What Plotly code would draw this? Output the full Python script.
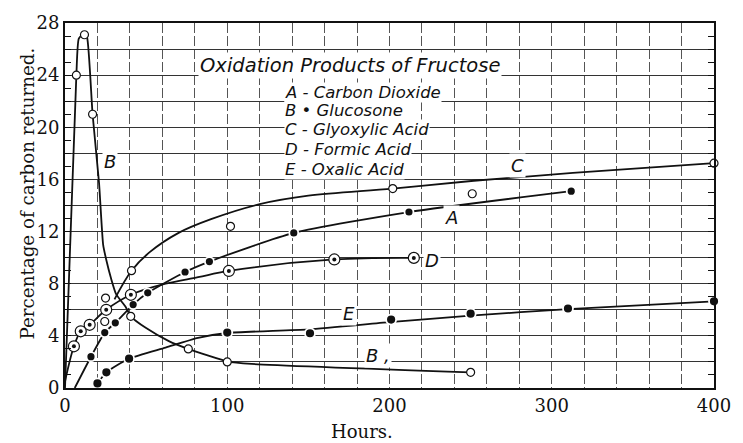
import plotly.graph_objects as go

# ---------------- data (hours, percentage of carbon returned) ----------------
# A - Carbon Dioxide (filled dots)
a_hours = [16, 24.5, 31, 42, 51, 74, 89, 141, 212, 312]
a_pct = [2.4, 4.25, 5.0, 6.4, 7.3, 8.9, 9.7, 11.9, 13.5, 15.1]
a_curve_hours = [6, 16, 24.5, 31, 42, 51, 74, 89, 141, 212, 312]
a_curve_pct = [0.0, 2.4, 4.25, 5.0, 6.4, 7.3, 8.9, 9.7, 11.9, 13.5, 15.1]

# B - Glucosone (open circles)
b_hours = [7, 12, 17, 24.5, 40.5, 76, 100, 250]
b_pct = [24.0, 27.1, 21.0, 5.1, 5.5, 3.0, 2.0, 1.2]
b_curve_hours = [0, 7, 8.5, 11.8, 13.6, 17, 21, 23.5, 25.5, 28.4, 31.5, 37.5,
                 40.5, 50, 64, 76, 100, 115, 250]
b_curve_pct = [0.0, 24.0, 26.8, 27.2, 26.9, 21.0, 15.7, 11.0, 9.8, 8.4, 7.2, 6.2,
               5.5, 4.6, 3.6, 3.0, 2.05, 1.85, 1.2]

# C - Glyoxylic Acid (open circles)
c_hours = [25, 41, 102, 202, 251, 400]
c_pct = [6.9, 9.0, 12.4, 15.3, 14.9, 17.25]
c_curve_hours = [30.5, 41, 52, 70, 90, 120, 150, 202, 252, 313, 400]
c_curve_pct = [6.8, 9.0, 10.4, 11.9, 12.95, 14.1, 14.75, 15.3, 15.9, 16.5, 17.25]

# D - Formic Acid (circled dots)
d_hours = [5.5, 9.7, 15.2, 25.4, 40.6, 101, 166, 215]
d_pct = [3.2, 4.35, 4.85, 6.0, 7.15, 8.98, 9.86, 9.98]
d_curve_hours = [0, 5.5, 9.7, 15.2, 25.4, 40.6, 62, 82, 101, 166, 215]
d_curve_pct = [0.5, 3.2, 4.35, 4.85, 6.0, 7.15, 8.0, 8.5, 8.98, 9.86, 9.98]

# E - Oxalic Acid (filled dots)
e_hours = [20, 25.5, 39.5, 100, 151, 201, 250, 310, 400]
e_pct = [0.35, 1.2, 2.25, 4.25, 4.2, 5.25, 5.7, 6.1, 6.65]
e_curve_hours = [20, 25.5, 39.5, 62, 82, 100, 150, 200, 250, 310, 400]
e_curve_pct = [0.35, 1.2, 2.25, 3.1, 3.85, 4.22, 4.5, 5.05, 5.55, 6.05, 6.65]

# axis ticks
x_ticks = list(range(0, 401, 20))
x_tick_text = [str(v) if v % 100 == 0 else "" for v in x_ticks]
y_ticks = list(range(0, 29, 2))
y_tick_text = [str(v) if v % 4 == 0 else "" for v in y_ticks]

# chart key and curve labels
title_text = "Oxidation Products of Fructose"
key_lines = ["A - Carbon Dioxide", "B \u2022 Glucosone", "C - Glyoxylic Acid",
             "D - Formic Acid", "E - Oxalic Acid"]
curve_labels = ["B", "B ,", "A", "C", "D", "E"]
curve_label_x = [27.5, 193, 238, 279, 226, 175]
curve_label_y = [17.4, 2.5, 13.05, 17.1, 9.8, 5.7]

INK = "#111111"
SERIF = "DejaVu Serif"
LETTERING = "DejaVu Sans"

fig = go.Figure()

# drawn curves
def curve(xs, ys, smoothing=1.0):
    fig.add_trace(go.Scatter(
        x=xs, y=ys, mode="lines",
        line=dict(color=INK, width=1.8, shape="spline", smoothing=smoothing),
        hoverinfo="skip", showlegend=False, cliponaxis=False))

curve(b_curve_hours, b_curve_pct, 0.5)
curve(c_curve_hours, c_curve_pct)
curve(a_curve_hours, a_curve_pct, 0.6)
curve(d_curve_hours, d_curve_pct)
curve(e_curve_hours, e_curve_pct, 0.6)

# observations
def open_points(xs, ys, size=8):
    fig.add_trace(go.Scatter(
        x=xs, y=ys, mode="markers",
        marker=dict(symbol="circle", size=size, color="white",
                    line=dict(color=INK, width=1.2)),
        hoverinfo="skip", showlegend=False, cliponaxis=False))

def solid_points(xs, ys, size=9):
    fig.add_trace(go.Scatter(
        x=xs, y=ys, mode="markers",
        marker=dict(symbol="circle", size=size, color=INK,
                    line=dict(color="white", width=1.8)),
        hoverinfo="skip", showlegend=False, cliponaxis=False))

open_points(b_hours, b_pct)
open_points(c_hours, c_pct)
solid_points(a_hours, a_pct, 9)
solid_points(e_hours, e_pct, 10)
open_points(d_hours, d_pct, 11)
fig.add_trace(go.Scatter(
    x=d_hours, y=d_pct, mode="markers",
    marker=dict(symbol="circle", size=4, color=INK),
    hoverinfo="skip", showlegend=False, cliponaxis=False))

annotations = []
annotations.append(dict(
    x=82, y=24.75, xref="x", yref="y", xanchor="left", yanchor="middle",
    text="<i>" + title_text + "</i>", showarrow=False, bgcolor="white",
    borderpad=1, font=dict(family=LETTERING, size=19.5, color=INK)))
key_y = [22.7, 21.25, 19.8, 18.3, 16.8]
for line, ky in zip(key_lines, key_y):
    annotations.append(dict(
        x=135, y=ky, xref="x", yref="y", xanchor="left", yanchor="middle",
        text="<i>" + line + "</i>", showarrow=False, bgcolor="white",
        borderpad=0, font=dict(family=LETTERING, size=16.5, color=INK)))
for lab, lx, ly in zip(curve_labels, curve_label_x, curve_label_y):
    annotations.append(dict(
        x=lx, y=ly, xref="x", yref="y", xanchor="center", yanchor="middle",
        text="<i>" + lab + "</i>", showarrow=False, bgcolor="white",
        borderpad=1, font=dict(family=LETTERING, size=18, color=INK)))
annotations.append(dict(
    x=-0.058, y=0.534, xref="paper", yref="paper", xanchor="center",
    yanchor="middle", textangle=-90, text="Percentage of carbon returned.",
    showarrow=False, font=dict(family=SERIF, size=18.3, color=INK)))
annotations.append(dict(
    x=0.458, y=-0.119, xref="paper", yref="paper", xanchor="center",
    yanchor="middle", text="Hours.", showarrow=False,
    font=dict(family=SERIF, size=18, color=INK)))

fig.update_layout(
    width=743, height=443,
    margin=dict(l=65, r=21, t=17, b=55),
    paper_bgcolor="white", plot_bgcolor="white",
    showlegend=False, hovermode=False,
    annotations=annotations,
    xaxis=dict(
        range=[0, 400], tickvals=x_ticks, ticktext=x_tick_text,
        showgrid=True, gridcolor="#555555", gridwidth=1, griddash="10px,3px",
        showline=True, linecolor=INK, linewidth=2, mirror=True,
        zeroline=False, ticks="",
        tickfont=dict(family=SERIF, size=18, color=INK)),
    yaxis=dict(
        range=[0, 28], tickvals=y_ticks, ticktext=y_tick_text,
        showgrid=True, gridcolor="#333333", gridwidth=1,
        showline=True, linecolor=INK, linewidth=2, mirror="ticks",
        zeroline=False, ticks="inside", ticklen=6, tickcolor=INK, tickwidth=1,
        minor=dict(dtick=1, ticks="inside", ticklen=6, tickcolor=INK,
                   tickwidth=1, showgrid=False),
        tickfont=dict(family=SERIF, size=18, color=INK)),
)

fig.write_html("out.html", config={"displayModeBar": False})
